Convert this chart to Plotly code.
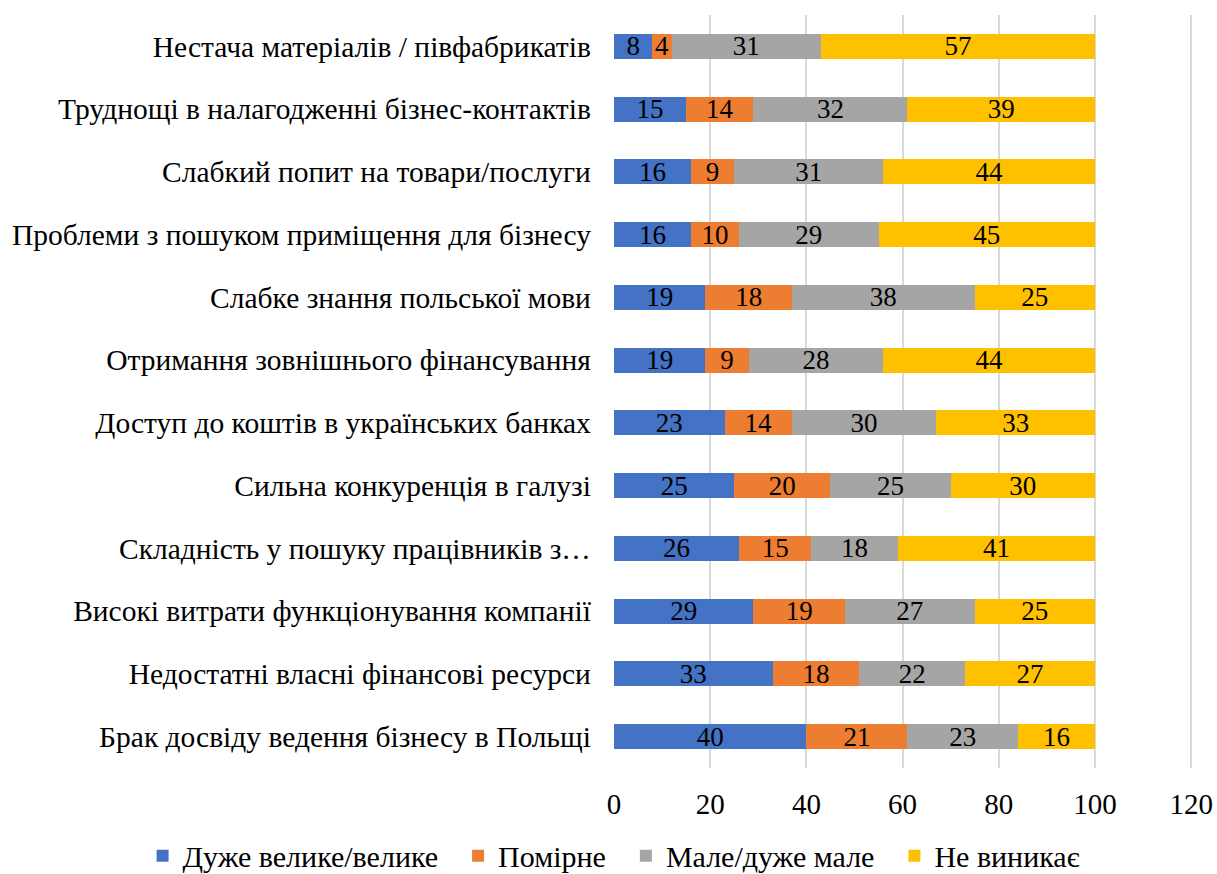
import plotly.graph_objects as go

categories = [
    'Нестача матеріалів / півфабрикатів',
    'Труднощі в налагодженні бізнес-контактів',
    'Слабкий попит на товари/послуги',
    'Проблеми з пошуком приміщення для бізнесу',
    'Слабке знання польської мови',
    'Отримання зовнішнього фінансування',
    'Доступ до коштів в українських банках',
    'Сильна конкуренція в галузі',
    'Складність у пошуку працівників з…',
    'Високі витрати функціонування компанії',
    'Недостатні власні фінансові ресурси',
    'Брак досвіду ведення бізнесу в Польщі',
]

very_big = [8, 15, 16, 16, 19, 19, 23, 25, 26, 29, 33, 40]
moderate = [4, 14, 9, 10, 18, 9, 14, 20, 15, 19, 18, 21]
small = [31, 32, 31, 29, 38, 28, 30, 25, 18, 27, 22, 23]
none = [57, 39, 44, 45, 25, 44, 33, 30, 41, 25, 27, 16]

series = [
    ('Дуже велике/велике', very_big, '#4472C4'),
    ('Помірне', moderate, '#ED7D31'),
    ('Мале/дуже мале', small, '#A5A5A5'),
    ('Не виникає', none, '#FFC000'),
]

FONT = 'Liberation Serif, Times New Roman, serif'
PAD = '\u00a0\u00a0'  # a bit of room between legend items

fig = go.Figure()
for name, vals, color in series:
    fig.add_trace(go.Bar(
        name=name + PAD,
        y=categories,
        x=vals,
        orientation='h',
        marker=dict(color=color, line=dict(width=0)),
        text=vals,
        textposition='inside',
        insidetextanchor='middle',
        textangle=0,
        textfont=dict(family=FONT, size=27, color='black'),
        constraintext='none',
        cliponaxis=False,
    ))

fig.update_layout(
    barmode='stack',
    bargap=0.6,
    width=1217,
    height=874,
    plot_bgcolor='white',
    paper_bgcolor='white',
    margin=dict(l=614, r=21, t=15, b=106, autoexpand=False),
    font=dict(family=FONT, size=29, color='black'),
    uniformtext=dict(minsize=27, mode='show'),
    legend=dict(
        orientation='h',
        x=-0.81, xanchor='left',
        y=-0.082, yanchor='top',
        font=dict(family=FONT, size=30),
        traceorder='normal',
        itemwidth=30,
        tracegroupgap=0,
    ),
    xaxis=dict(
        range=[0, 121],
        tickvals=[0, 20, 40, 60, 80, 100, 120],
        showgrid=True,
        gridcolor='#D9D9D9',
        gridwidth=2,
        zeroline=False,
        showline=False,
        tickfont=dict(family=FONT, size=29),
        ticks='outside',
        ticklen=10,
        tickcolor='rgba(0,0,0,0)',
        ticklabeloverflow='allow',
    ),
    yaxis=dict(
        autorange='reversed',
        showgrid=False,
        tickfont=dict(family=FONT, size=29.5),
        ticksuffix='   ',
    ),
)

# drop the page's default 8px body margin so the figure sits at the window corner
fig.write_html('out.html', config={'displayModeBar': False},
               post_script="document.body.style.margin='0';")
